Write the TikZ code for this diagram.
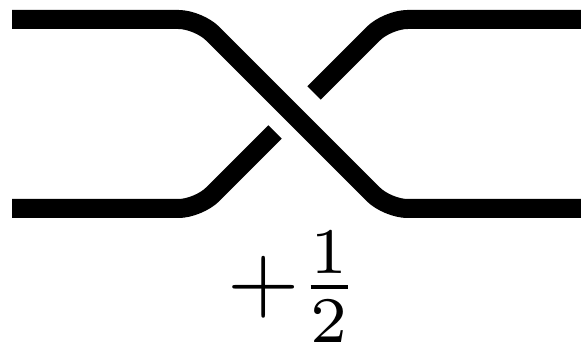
\documentclass[tikz,border=0pt]{standalone}
\usepackage{amsmath}
\usetikzlibrary{calc}
\tikzset{
  strand/.style={draw=black, line width=19pt, rounded corners=20pt, line cap=butt},
  twistlabel/.style={inner sep=0pt, scale=9.3}
}
\begin{document}
\begin{tikzpicture}[x=1pt, y=-1pt]
\useasboundingbox (0,0) rectangle (581,344);
% corner points of the crossing
\coordinate (tl) at (12,19.5);
\coordinate (bl) at (12,208.5);
\coordinate (tr) at (581,19.5);
\coordinate (br) at (581,208.5);
\coordinate (cross) at (293,114);
% over strand
\draw[strand] (tl) -- (198.5,19.5) -- (387.5,208.5) -- (br);
% under strand, broken at the crossing
\coordinate (gapLow) at (275,132);
\coordinate (gapHigh) at (314,93);
\draw[strand] (bl) -- (198.5,208.5) -- (gapLow);
\draw[strand] (gapHigh) -- (387.5,19.5) -- (tr);
% twist value
\node[twistlabel] (twist) at (293,287) {$+\frac{1}{2}$};
\end{tikzpicture}
\end{document}
